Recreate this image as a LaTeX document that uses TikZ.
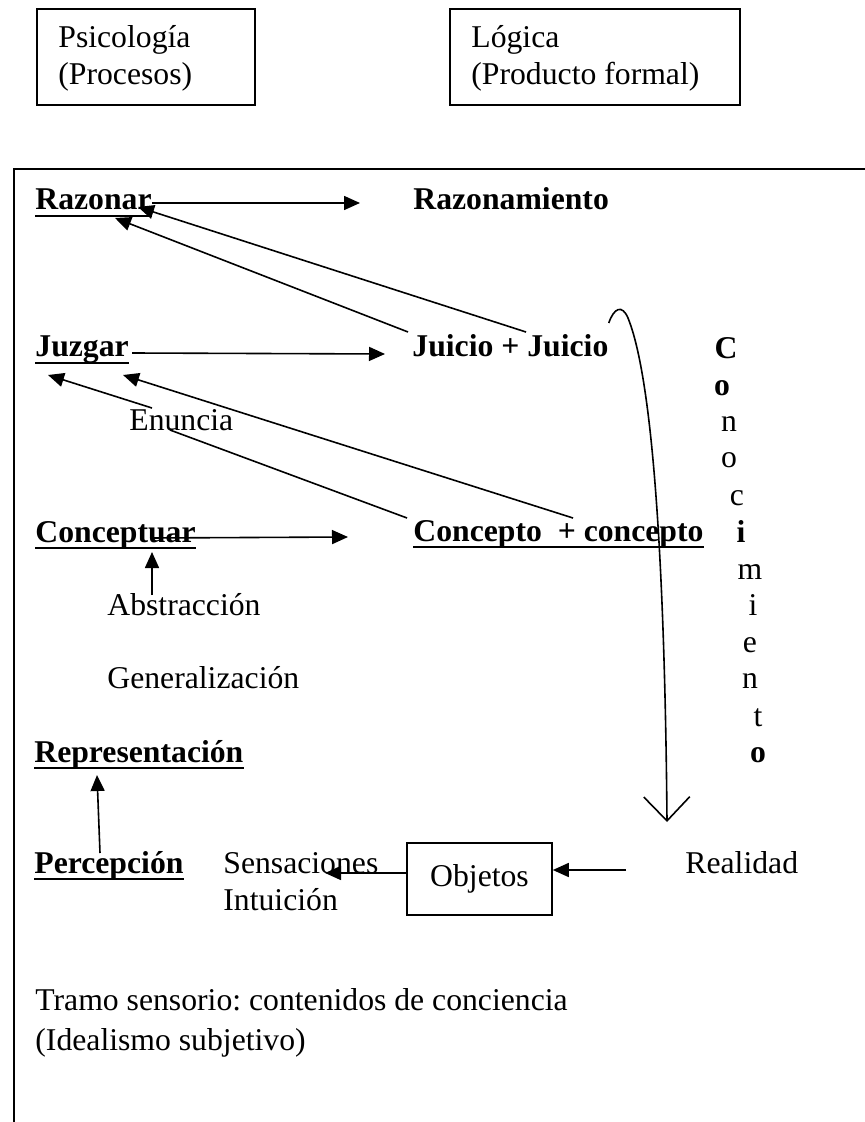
\documentclass[tikz,border=0pt]{standalone}
\usepackage{fontspec}
\setmainfont{Liberation Serif}
\usetikzlibrary{arrows.meta,calc}
\frenchspacing
\newcommand{\fsz}{\fontsize{15.85}{18}\selectfont}
\begin{document}
\begin{tikzpicture}[x=0.5pt,y=-0.5pt,
  txt/.style={inner sep=0pt, anchor=base west, font=\fsz},
  btxt/.style={txt, font=\fsz\bfseries},
  letter/.style={inner sep=0pt, anchor=base, font=\fsz},
  bletter/.style={letter, font=\fsz\bfseries},
  boxed/.style={draw, line width=0.8pt, inner sep=0pt},
  ln/.style={line width=0.8pt},
  arr/.style={ln, -{Triangle[length=8pt,width=7pt]}},
  uline/.style={line width=1.4pt},
]
\useasboundingbox (0,0) rectangle (864,1122);

% header boxes
\node[boxed, minimum width=109pt, minimum height=48pt] (psibox) at (146,57) {};
\node[txt] (psi) at (58,48) {Psicología};
\node[txt] (proc) at (58,85) {(Procesos)};
\node[boxed, minimum width=145pt, minimum height=48pt] (logbox) at (595,57) {};
\node[txt] (log) at (471,48) {Lógica};
\node[txt] (prod) at (471,85) {(Producto formal)};

% open frame around the scheme
\draw[line width=0.9pt] (870,169) -- (14,169) -- (14,1130);

% processes and products
\node[btxt] (raz) at (35,210) {Razonar};
\node[btxt] (razm) at (413,210) {Razonamiento};
\node[btxt] (juz) at (35,357) {Juzgar};
\node[btxt] (jui) at (412,357) {Juicio + Juicio};
\node[txt] (enu) at (129,430) {Enuncia};
\node[btxt] (cpt) at (35,542) {Conceptuar};
\node[btxt] (cto) at (413,541) {Concepto\ \ + concepto};
\node[txt] (abs) at (107,615) {Abstracción};
\node[txt] (gen) at (107,688) {Generalización};
\node[btxt] (rep) at (34,762) {Representación};
\node[btxt] (per) at (34,873) {Percepción};
\node[txt] (sen) at (223,873) {Sensaciones};
\node[txt] (intu) at (223,910) {Intuición};
\node[boxed, minimum width=72.5pt, minimum height=36pt, font=\fsz] (obj) at (479.5,879) {Objetos};
\node[txt] (real) at (685,873) {Realidad};
\node[txt] (tramo) at (35,1010) {Tramo sensorio: contenidos de conciencia};
\node[txt] (ideal) at (35,1050) {(Idealismo subjetivo)};

% underlines
\foreach \n in {raz,juz,cpt,cto,rep,per}
  \draw[uline] ($(\n.base west)+(0,6)$) -- ($(\n.base east)+(0,6)$);

% vertical word
\node[bletter] (k1) at (726,358) {C};
\node[bletter] (k2) at (722,395) {o};
\node[letter] (k3) at (729,431) {n};
\node[letter] (k4) at (729,467) {o};
\node[letter] (k5) at (737,505) {c};
\node[bletter] (k6) at (741,542) {i};
\node[letter] (k7) at (750,579) {m};
\node[letter] (k8) at (753,615) {i};
\node[letter] (k9) at (750,652) {e};
\node[letter] (k10) at (750,688) {n};
\node[letter] (k11) at (758,726) {t};
\node[bletter] (k12) at (758,762) {o};

% connectors
\draw[arr] ($(raz.base east)+(0,-7)$) -- ($(razm.base west)+(-53,-7)$);
\draw[arr] ($(jui.base west)+(-4,-25)$) -- ($(raz.base west)+(80,8)$);
\draw[arr] ($(jui.base west)+(114,-25)$) -- ($(raz.base west)+(103,-3)$);
\draw[arr] ($(juz.base east)+(3,-4)$) -- ($(jui.base west)+(-27,-3)$);
\draw[ln] ($(cto.base west)+(-6,-23)$) -- ($(enu.base west)+(41,0)$);
\draw[arr] ($(enu.base west)+(23,-22)$) -- ($(juz.base west)+(13,18)$);
\draw[arr] ($(cto.base west)+(160,-23)$) -- ($(juz.base west)+(88,18)$);
\draw[arr] ($(cpt.base west)+(115,-4)$) -- ($(cto.base west)+(-65,-4)$);
\draw[arr] ($(abs.base west)+(45,-20)$) -- ($(cpt.base west)+(117,10)$);
\draw[arr] ($(per.base west)+(66,-20)$) -- ($(rep.base west)+(63,13)$);
\draw[arr] ($(obj.west)+(0,-6)$) -- ($(sen.base west)+(102,0)$);
\draw[arr] ($(real.base west)+(-59,-3)$) -- ($(obj.east)+(0,-9)$);

% arc from the judgements down to reality
\coordinate (cs) at ($(jui.base east)+(0,-34)$);
\coordinate (ce) at ($(real.base west)+(-18,-51)$);
\draw[ln, -{Straight Barb[length=12pt,width=23pt,line width=0.8pt]}]
  (cs) .. controls (614,308) and (622,304) .. (628,318)
       .. controls (645,360) and (664,480) .. (ce);
\end{tikzpicture}
\end{document}
